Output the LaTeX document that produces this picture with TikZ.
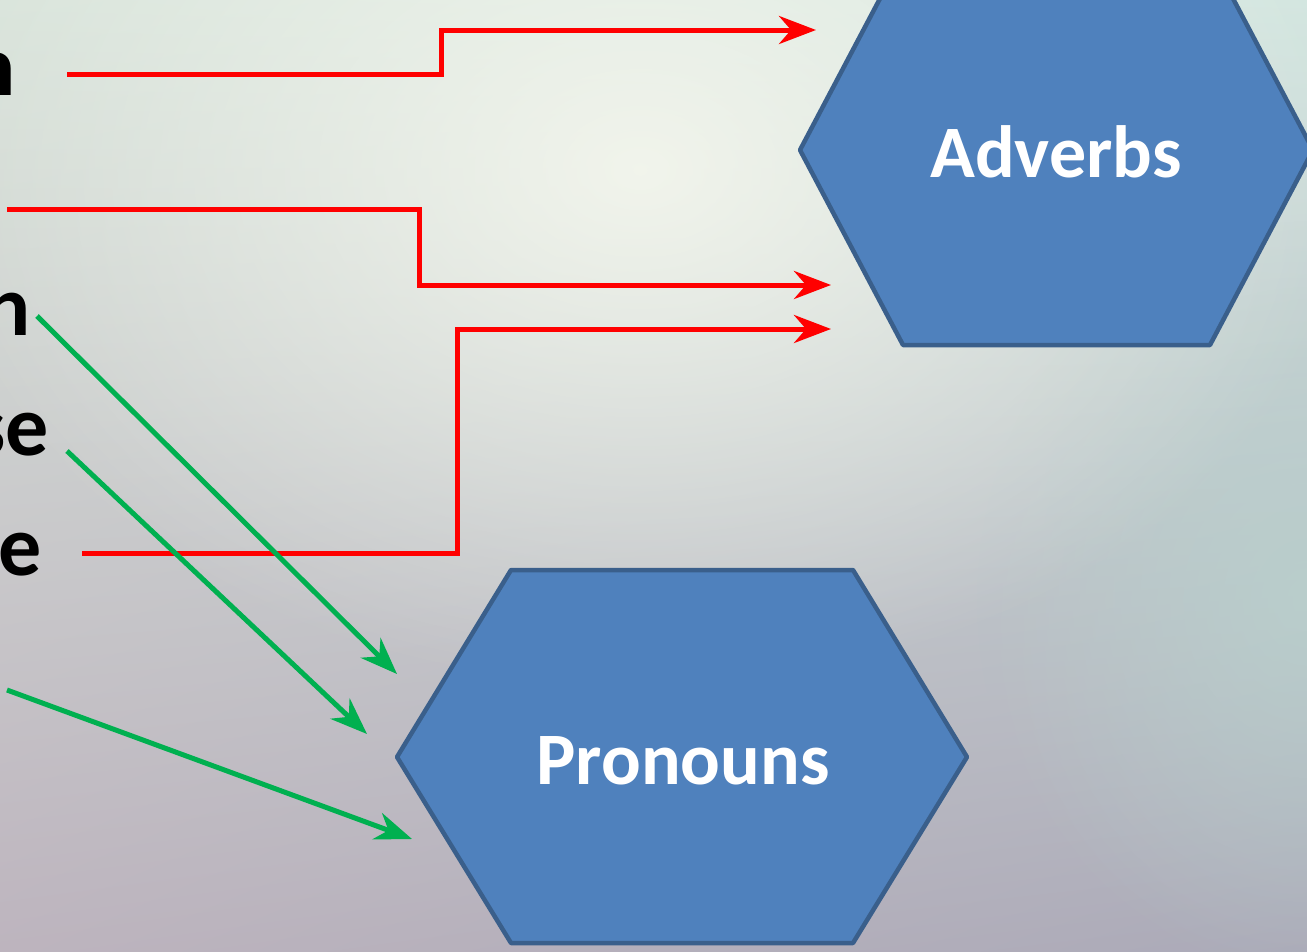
\documentclass[tikz,border=0pt]{standalone}
\usepackage{fontspec}
\setmainfont{Carlito}
\usetikzlibrary{arrows.meta,fadings,shadings}
\definecolor{hexfill}{HTML}{4F81BD}
\definecolor{hexdraw}{HTML}{3A5F8B}
\definecolor{redline}{HTML}{FF0000}
\definecolor{greenline}{HTML}{00B050}
\definecolor{bgUL}{HTML}{D9E4DB}
\definecolor{bgUR}{HTML}{D3E6E0}
\definecolor{bgLL}{HTML}{BDB4BE}
\definecolor{bgLR}{HTML}{ABAAB8}
\definecolor{glow}{HTML}{F5F7EE}
\definecolor{tealglow}{HTML}{B9D1CD}
\tikzfading[name=glowfade, inner color=transparent!0, outer color=transparent!100]
\begin{document}
\begin{tikzpicture}[x=1pt,y=-1pt,
  hexshape/.style={fill=hexfill,draw=hexdraw,line width=4.5pt,line join=round},
  hexlabel/.style={anchor=base,inner sep=0pt,text=white,font=\fontsize{74}{80}\selectfont\bfseries},
  leftword/.style={anchor=base east,inner sep=0pt,text=black,font=\fontsize{86}{90}\selectfont\bfseries},
  tip/.style={-{Stealth[length=37pt,width=28pt,inset=12pt]}},
  redarrow/.style={draw=redline,line width=5pt,tip},
  greenarrow/.style={draw=greenline,line width=5pt,tip}]
\useasboundingbox (0,0) rectangle (1307,951);
\clip (0,0) rectangle (1307,951);
% background
\shade[upper left=bgUL, upper right=bgUR, lower left=bgLL, lower right=bgLR] (0,0) rectangle (1307,951);
\fill[tealglow, path fading=glowfade, opacity=0.8] (1307,600) ellipse (330 and 380);
\fill[glow, path fading=glowfade, opacity=0.9] (640,170) ellipse (720 and 520);
% hexagons
\path[hexshape] (800,150) -- (903,-45) -- (1210,-45) -- (1313,150) -- (1210,345) -- (903,345) -- cycle;
\path[hexshape] (397,757) -- (511,570) -- (853,570) -- (967,757) -- (853,943) -- (511,943) -- cycle;
\node[hexlabel] (adv) at (1056,177) {Adverbs};
\node[hexlabel] (pro) at (683,784) {Pronouns};
% left text fragments
\node[leftword] (w1) at (16,95) {n};
\node[leftword] (w2) at (31,335) {n};
\node[leftword] (w3) at (49,455) {se};
\node[leftword] (w4) at (42,575) {e};
% connector ends
\coordinate (r1s) at (67,74);
\coordinate (r1e) at (816,30);
\coordinate (r2s) at (7,209);
\coordinate (r2e) at (831,285);
\coordinate (r3s) at (82,553);
\coordinate (r3e) at (831,329);
\coordinate (g1s) at (37,316);
\coordinate (g1e) at (397,674);
\coordinate (g2s) at (67,451);
\coordinate (g2e) at (367,734);
\coordinate (g3s) at (7,690);
\coordinate (g3e) at (412,839);
% red connectors
\draw[redarrow] (r1s) -- (441,74) |- (r1e);
\draw[redarrow] (r2s) -- (419,209) |- (r2e);
\draw[redarrow] (r3s) -- (457,553) |- (r3e);
% green connectors
\draw[greenarrow] (g1s) -- (g1e);
\draw[greenarrow] (g2s) -- (g2e);
\draw[greenarrow] (g3s) -- (g3e);
\end{tikzpicture}
\end{document}
